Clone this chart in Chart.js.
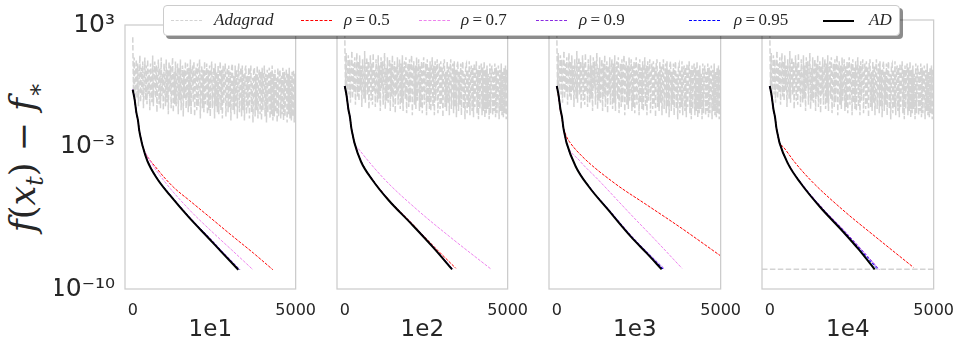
<!DOCTYPE html>
<html>
<head>
<meta charset="utf-8">
<script src="https://cdn.jsdelivr.net/npm/chart.js@4.4.1/dist/chart.umd.min.js"></script>
<style>
  body { margin: 0; background: #fff; width: 966px; height: 349px; overflow: hidden; position: relative; color: #262626; }
  canvas.panel { position: absolute; top: 0; }
  #ylab { position: absolute; left: 26px; top: 157px; transform: translate(-50%, -50%) rotate(-90deg);
          font: 35px "DejaVu Serif", serif; white-space: nowrap; }
  #ylab i { font-style: italic; }
  #ylab sub { font-size: 68%; vertical-align: -0.3em; }
  #legend { position: absolute; left: 163px; top: 5px; width: 735px; height: 29px; background: #fff;
            border: 1px solid #cccccc; border-radius: 4px; box-shadow: 3px 3px 0 rgba(0,0,0,0.45); z-index: 5; }
  .sw { position: absolute; top: 14px; width: 31px; height: 0; }
  .lt { position: absolute; top: 4px; line-height: 19px; font: italic 17px "Liberation Serif", serif; white-space: nowrap; }
  .lt span { font-style: normal; }
</style>
</head>
<body>
<div id="ylab"><i>f</i>(<i>x</i><sub><i>t</i></sub>) − <i>f</i><sub>∗</sub></div>
<div id="legend"></div>

<script>
// panel titles and axis ticks
const panels = ['1e1', '1e2', '1e3', '1e4'];
const xTicks = [0, 5000];
const yTicks = [1e3, 1e-3, 1e-10];

// Adagrad gap, log10 values, evenly spaced over iterations 0..5000 (same run in every panel)
const adagradLog = [
  2.4, -0.3, 1.4, -0.9, 0.6, 1.3, -0.6, 1.1, -1.0, 0.4, 1.5, -0.8, 0.9, -0.5, 1.2, -1.1, 0.3, 1.4, -0.7, 1.0,
  -0.9, 1.3, -0.4, 0.8, -1.2, 1.1, 0.2, -0.8, 1.5, -1.0, 0.7, 1.2, -0.6, 1.0, -1.3, 0.5, 1.3, -0.9, 0.9, -1.1,
  1.4, -0.5, 0.6, -1.2, 1.1, 0.1, -1.0, 1.3, -0.8, 0.8, -1.4, 1.2, -0.3, 1.0, -1.1, 0.6, 1.4, -1.3, 0.7, -0.9,
  1.2, -1.0, 0.4, 1.1, -1.4, 0.9, -0.7, 1.3, -1.2, 0.5, 1.0, -1.5, 0.8, -0.6, 1.2, -1.1, 0.3, 1.1, -1.3, 0.9,
  -1.0, 1.3, -1.4, 0.6, 1.0, -0.8, 1.2, -1.5, 0.4, 0.9, -1.2, 1.1, -1.0, 0.7, 1.3, -1.6, 0.5, 1.0, -1.1, 0.8,
  -1.3, 1.2, -0.9, 0.3, 1.1, -1.4, 0.8, -1.2, 1.0, -1.5, 0.6, 1.2, -1.1, 0.4, 0.9, -1.6, 1.1, -1.0, 0.7, -1.3,
  1.0, -1.4, 0.5, 1.2, -1.2, 0.8, -1.6, 1.0, -0.9, 0.6, 1.1, -1.5, 0.4, 0.9, -1.3, 1.0, -1.1, 0.7, -1.7, 0.9,
  1.1, -1.2, 0.5, -1.4, 1.0, -1.0, 0.8, -1.6, 0.6, 1.1, -1.3, 0.3, 0.9, -1.5, 1.0, -1.2, 0.6, -1.7, 0.8, 1.0,
  -1.4, 0.5, -1.1, 0.9, -1.6, 0.7, 1.0, -1.3, 0.4, -1.8, 0.8, 0.9, -1.5, 0.6, -1.2, 1.0, -1.6, 0.5, 0.8, -1.4,
  0.7, -1.7, 0.9, -1.2, 0.4, 1.0, -1.5, 0.6, -1.8, 0.8, -1.3, 0.5, 0.9, -1.6, 0.7, -1.4, 1.0, -1.7, 0.6, -1.5,
  0.8, -1.3, 0.4, -1.8, 0.9, -1.5, 0.6, 0.8, -1.6, 0.5, -1.4, 0.9, -1.7, 0.7, -1.5, 0.4, 0.8, -1.8, 0.6, -1.4,
  0.9, -1.6, 0.5, -1.7, 0.7, -1.5, 0.8, -1.8, 0.6, -1.6];
const adagradLastIter = 5000;
// flat Adagrad level seen in the 1e4 panel
const adagradFloor4 = [[-238, -9.05], [5000, -9.05]];

// shared start of every curve: [iteration, log10 gap]
const early = [[0, -0.19], [60, -0.7], [110, -1.3], [160, -1.7], [200, -2.2], [250, -2.6], [300, -2.95]];
// red curve in the 1e3 panel leaves the others a little earlier
const earlyR05_1e3 = [[0, -0.19], [60, -0.8], [110, -1.4], [160, -1.8], [200, -2.2], [250, -2.45], [300, -2.65]];

// per panel (1e1, 1e2, 1e3, 1e4): [iteration, log10 gap]
const curveAD = [
  [[450, -3.7], [750, -4.57], [1140, -5.38], [1740, -6.5], [2330, -7.5], [2720, -8.17], [3240, -9.05]],
  [[500, -3.85], [850, -4.73], [1340, -5.7], [2030, -6.83], [2720, -8.0], [3295, -9.05]],
  [[580, -4.09], [980, -5.06], [1570, -6.18], [2260, -7.47], [2750, -8.28], [3200, -9.05]],
  [[550, -3.93], [950, -4.9], [1540, -6.05], [2230, -7.22], [2720, -8.1], [3200, -9.05]]
];
const curveR095 = [
  [[455, -3.7], [755, -4.57], [1150, -5.38], [1755, -6.5], [2350, -7.5], [2740, -8.17], [3265, -9.05]],
  [[505, -3.85], [855, -4.73], [1345, -5.7], [2040, -6.83], [2730, -8.0], [3305, -9.05]],
  [[585, -4.09], [990, -5.06], [1585, -6.18], [2280, -7.47], [2775, -8.28], [3250, -9.05]],
  [[555, -3.93], [960, -4.9], [1560, -6.05], [2260, -7.22], [2760, -8.1], [3290, -9.05]]
];
const curveR09 = [
  [[460, -3.7], [760, -4.56], [1160, -5.37], [1770, -6.5], [2370, -7.5], [2760, -8.17], [3290, -9.05]],
  [[510, -3.85], [860, -4.72], [1350, -5.69], [2045, -6.82], [2740, -8.0], [3320, -9.05]],
  [[590, -4.09], [995, -5.06], [1600, -6.18], [2300, -7.47], [2800, -8.28], [3295, -9.05]],
  [[560, -3.93], [970, -4.9], [1580, -6.05], [2290, -7.22], [2800, -8.1], [3335, -9.05]]
];
const curveR07 = [
  [[500, -3.6], [950, -4.65], [1740, -6.1], [2520, -7.31], [3020, -8.05], [3690, -9.05]],
  [[450, -3.28], [1240, -4.73], [2230, -6.18], [3220, -7.47], [4500, -9.05]],
  [[680, -3.77], [1270, -4.73], [2260, -6.4], [3050, -7.7], [3820, -9.0]],
  [[560, -3.93], [970, -4.9], [1580, -6.05], [2290, -7.22], [2800, -8.1], [3330, -9.05]]
];
const curveR05 = [
  [[355, -3.2], [750, -4.09], [1240, -4.97], [1740, -5.64], [2330, -6.42], [3020, -7.34], [3710, -8.24], [4300, -9.05]],
  [[500, -3.83], [850, -4.7], [1340, -5.66], [2030, -6.78], [2720, -7.92], [3410, -9.0]],
  [[385, -2.88], [780, -3.6], [1765, -4.89], [2750, -5.94], [3740, -6.99], [5000, -8.4]],
  [[405, -3.12], [750, -3.85], [1240, -4.73], [2230, -6.18], [3220, -7.47], [4380, -8.95]]
];

const legendLabels = ['Adagrad', 'ρ=0.5', 'ρ=0.7', 'ρ=0.9', 'ρ=0.95', 'AD'];
const colors = ['#d3d3d3', '#ff0000', '#ee82ee', '#8a2be2', '#0000ff', '#000000'];

const panelLeft = [125, 337, 549, 762];
const panelWidth = [177, 177, 178, 178];
const padL = 70, padR = 26;

function pts(arr) {
  return arr.map(p => ({ x: p[0], y: Math.pow(10, p[1]) }));
}

const supMap = { '-': '⁻', '0': '⁰', '1': '¹', '2': '²', '3': '³', '4': '⁴', '5': '⁵', '6': '⁶', '7': '⁷', '8': '⁸', '9': '⁹' };
function powLabel(v) {
  const e = String(Math.round(Math.log10(v)));
  return '10' + e.split('').map(c => supMap[c]).join('');
}

const frame = {
  id: 'frame',
  afterDraw(chart) {
    const a = chart.chartArea, ctx = chart.ctx;
    ctx.save();
    ctx.strokeStyle = '#cccccc';
    ctx.lineWidth = 1.25;
    ctx.strokeRect(a.left, a.top, a.right - a.left, a.bottom - a.top);
    ctx.restore();
  }
};

function rhoSet(data, color, order) {
  return { data: pts(data), borderColor: color, borderWidth: 1, borderDash: [3, 1.3],
           pointRadius: 0, cubicInterpolationMode: 'monotone', order: order };
}

panels.forEach((title, i) => {
  const cv = document.createElement('canvas');
  cv.className = 'panel';
  cv.width = panelWidth[i] + padL + padR;
  cv.height = 349;
  cv.style.left = (panelLeft[i] - padL) + 'px';
  document.body.appendChild(cv);

  const adagrad = adagradLog.map((v, k) => [k * adagradLastIter / (adagradLog.length - 1), v]);
  const datasets = [
    { data: pts(early.concat(curveAD[i])), borderColor: colors[5], borderWidth: 2, pointRadius: 0,
      cubicInterpolationMode: 'monotone', order: 0 },
    rhoSet(early.concat(curveR095[i]), colors[4], 1),
    rhoSet(early.concat(curveR09[i]), colors[3], 2),
    rhoSet(early.concat(curveR07[i]), colors[2], 3),
    rhoSet((i === 2 ? earlyR05_1e3 : early).concat(curveR05[i]), colors[1], 4),
    { data: pts(adagrad), borderColor: colors[0], borderWidth: 1.5, borderDash: [5.5, 2.4],
      pointRadius: 0, tension: 0, order: 5 }
  ];
  if (i === 3) {
    datasets.push({ data: pts(adagradFloor4), borderColor: colors[0], borderWidth: 1.5, borderDash: [5.5, 2.4],
                    pointRadius: 0, order: 6 });
  }

  new Chart(cv.getContext('2d'), {
    type: 'line',
    data: { datasets: datasets },
    options: {
      responsive: false,
      animation: false,
      events: [],
      layout: { padding: { top: 20, right: padR, left: 0, bottom: 0 } },
      plugins: { legend: { display: false }, tooltip: { enabled: false } },
      scales: {
        x: {
          type: 'linear', min: -238, max: 5000,
          grid: { display: false, drawTicks: false },
          border: { display: false },
          afterBuildTicks: s => { s.ticks = xTicks.map(v => ({ value: v })); },
          afterFit: s => { s.height = 60; },
          ticks: { padding: 12, color: '#262626', maxRotation: 0, autoSkip: false,
                   font: { family: 'DejaVu Sans', size: 16 }, callback: v => String(v) },
          title: { display: true, text: title, color: '#262626', padding: { top: 0, bottom: 5 },
                   font: { family: 'DejaVu Sans', size: 23 } }
        },
        y: {
          type: 'logarithmic', min: 1e-10, max: 1e3,
          grid: { display: false, drawTicks: false },
          border: { display: false },
          afterBuildTicks: s => { s.ticks = yTicks.map(v => ({ value: v })); },
          afterFit: s => { s.width = padL; },
          ticks: { display: i === 0, padding: 10, color: '#262626', autoSkip: false,
                   font: { family: 'DejaVu Sans', size: 25 }, callback: v => powLabel(v) }
        }
      }
    },
    plugins: [frame]
  });
});

// legend row above the panels
const legend = document.getElementById('legend');
const swLeft = [7, 137, 255, 372, 525, 659];
const txLeft = [50, 180, 297, 415, 570, 705];
legendLabels.forEach((lab, k) => {
  const sw = document.createElement('div');
  sw.className = 'sw';
  sw.style.left = swLeft[k] + 'px';
  sw.style.borderTop = k === 0 ? '1.5px dashed ' + colors[0] : (k === 5 ? '2px solid #000' : '1px dashed ' + colors[k]);
  legend.appendChild(sw);
  const tx = document.createElement('div');
  tx.className = 'lt';
  tx.style.left = txLeft[k] + 'px';
  if (lab.startsWith('ρ')) {
    tx.innerHTML = 'ρ<span>&thinsp;=&thinsp;' + lab.slice(2) + '</span>';
  } else {
    tx.textContent = lab;
  }
  legend.appendChild(tx);
});
</script>
</body>
</html>
